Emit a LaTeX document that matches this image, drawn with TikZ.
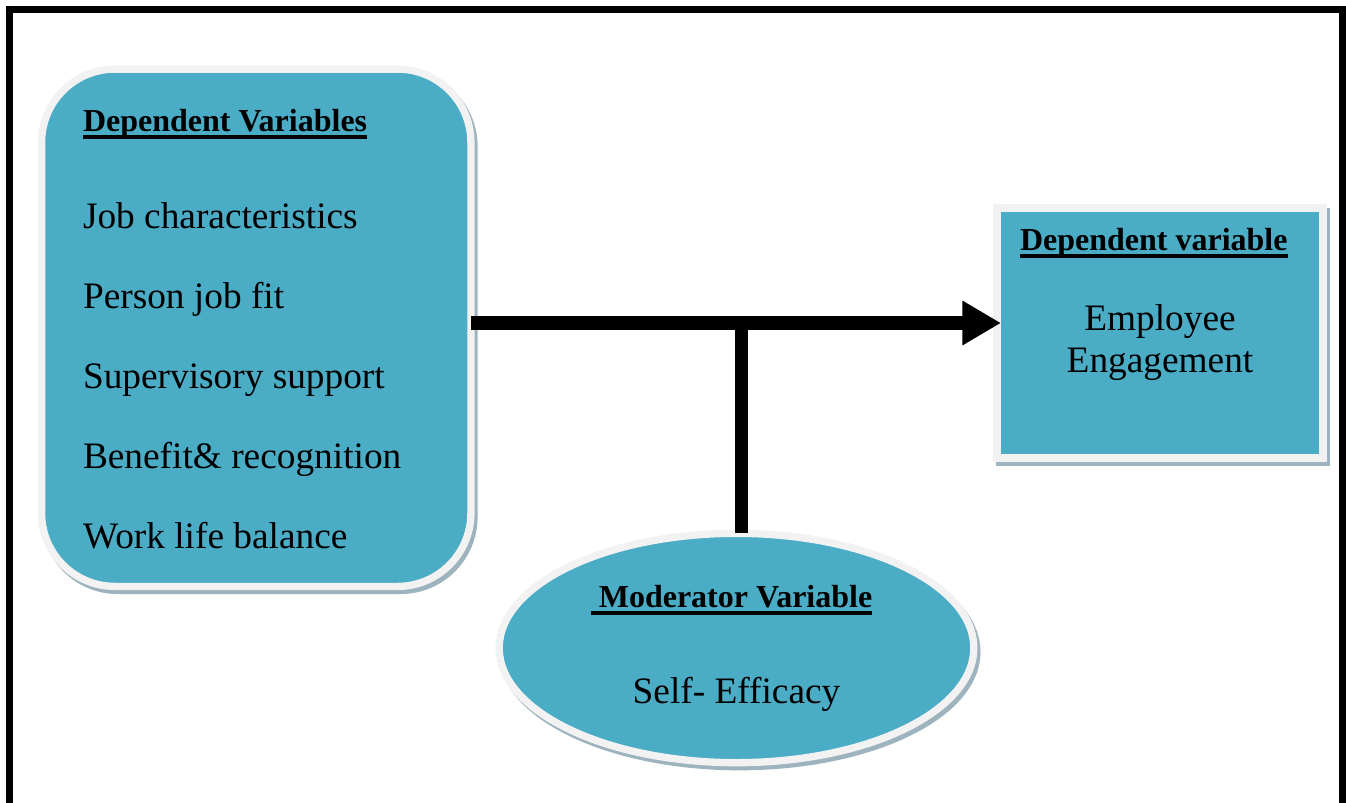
\documentclass[tikz,border=0pt]{standalone}
\usepackage{fontspec}
\setmainfont{Liberation Serif}
\usetikzlibrary{arrows.meta,shapes.geometric}
\definecolor{boxteal}{HTML}{4BACC6}
\definecolor{rimc}{HTML}{F2F2F2}
\definecolor{shadc}{HTML}{9DB3BD}
\newcommand\ulhead[1]{\setbox0\hbox{#1}\rlap{\rule[-6pt]{\wd0}{3pt}}\box0}
\begin{document}
\begin{tikzpicture}[x=0.75pt,y=-0.75pt,
  box/.style={fill=boxteal, draw=rimc, line width=5.5pt, outer sep=0pt, inner sep=0pt,
    preaction={draw=shadc, fill=shadc, line width=5.5pt, transform canvas={shift={(2.25pt,-3pt)}}}},
  txt/.style={font=\fontsize{28pt}{34pt}\selectfont, inner sep=0pt, outer sep=0pt},
  hd/.style={font=\fontsize{24pt}{28pt}\selectfont\bfseries, inner sep=0pt, outer sep=0pt},
  conn/.style={line width=10pt, draw=black}]
\clip (0,0) rectangle (1346,803);
\draw[line width=5.25pt] (9.5,9.5) rectangle (1342.5,900);
% boxes
\node[box, rectangle, rounded corners=55pt, minimum width=322pt, minimum height=388pt] (iv) at (256.25,327.75) {};
\node[box, rectangle, minimum width=244.5pt, minimum height=187.5pt] (dv) at (1160,333) {};
\node[box, ellipse, minimum width=356pt, minimum height=172pt] (mod) at (736.5,648) {};
% texts left
\node[hd, anchor=base west] (ivh) at (83,131) {\ulhead{Dependent Variables}};
\node[txt, anchor=base west] (iv1) at (83,228) {Job characteristics};
\node[txt, anchor=base west] (iv2) at (83,308) {Person job fit};
\node[txt, anchor=base west] (iv3) at (83,388) {Supervisory support};
\node[txt, anchor=base west] (iv4) at (83,468) {Benefit\& recognition};
\node[txt, anchor=base west] (iv5) at (83,548) {Work life balance};
% texts right
\node[hd, anchor=base west] (dvh) at (1020,250) {\ulhead{Dependent variable}};
\node[txt, anchor=base] (dv1) at (1160,330) {Employee};
\node[txt, anchor=base] (dv2) at (1160,372) {Engagement};
% texts ellipse
\node[hd, anchor=base] (modh) at (731.5,607) {\ulhead{\ Moderator Variable}};
\node[txt, anchor=base] (mod1) at (736.5,703) {Self- Efficacy};
% connectors
\coordinate (lineY) at (0,323);
\coordinate (stemtop) at (741,323);
\coordinate (arrEnd) at ([xshift=3pt]dv.west);
\draw[conn, -{Triangle[length=29pt,width=31.5pt]}] (iv.east |- lineY) -- (arrEnd |- lineY);
\draw[conn, line width=9.75pt] (stemtop) -- (stemtop |- mod.north);
\end{tikzpicture}
\end{document}
